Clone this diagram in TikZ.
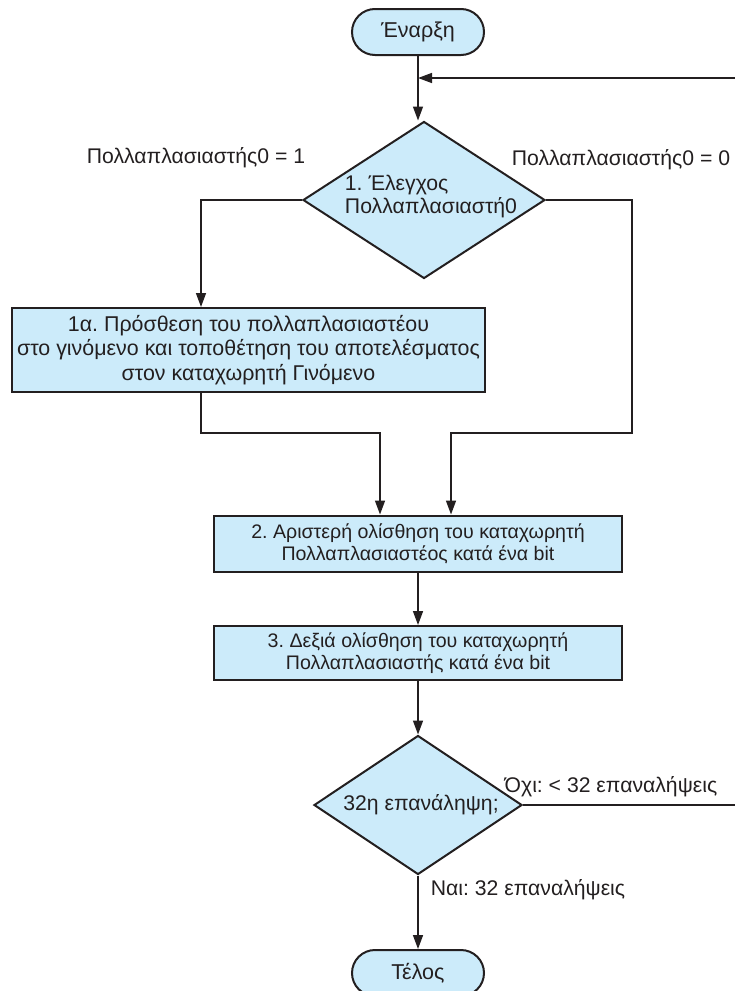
\documentclass[tikz,border=0pt]{standalone}
\usepackage{fontspec}
\setmainfont{Liberation Sans}
\usetikzlibrary{arrows.meta,shapes.geometric}
\frenchspacing
\definecolor{boxfill}{RGB}{204,235,250}
\definecolor{linecol}{RGB}{35,31,32}
\tikzset{
  base/.style={draw=linecol, line width=2pt, fill=boxfill, inner sep=0pt, text=linecol},
  term/.style={base, rounded corners=23pt, minimum width=132pt, minimum height=46pt, font=\fontsize{21.5}{24}\selectfont},
  procbox/.style={base, rectangle, align=center},
  bigbox/.style={procbox, font=\fontsize{21.4}{24.5}\selectfont},
  midbox/.style={procbox, font=\fontsize{19.6}{22}\selectfont},
  decis/.style={base, diamond},
  txt/.style={inner sep=0pt, font=\fontsize{21.2}{23}\selectfont, text=linecol},
  conn/.style={draw=linecol, line width=1.5pt},
  arr/.style={conn, -{Triangle[length=14pt,width=10pt]}},
}
\begin{document}
\begin{tikzpicture}[x=1pt,y=-1pt]
\useasboundingbox (0,0) rectangle (734,991);
% nodes
\node[term] (start) at (418,32) {Έναρξη};
\node[decis, minimum width=242pt, minimum height=157pt] (d1) at (424,200) {};
\node[txt, align=left] (d1t) at (431,197) {1. Έλεγχος\\Πολλαπλασιαστή0};
\node[bigbox, minimum width=473pt, minimum height=84pt] (b1) at (248.5,350) {1α. Πρόσθεση του πολλαπλασιαστέου\\στο γινόμενο και τοποθέτηση του αποτελέσματος\\στον καταχωρητή Γινόμενο};
\node[midbox, minimum width=408pt, minimum height=56pt] (b2) at (418,543.5) {2. Αριστερή ολίσθηση του καταχωρητή\\Πολλαπλασιαστέος κατά ένα bit};
\node[midbox, minimum width=408pt, minimum height=54pt] (b3) at (418,653) {3. Δεξιά ολίσθηση του καταχωρητή\\Πολλαπλασιαστής κατά ένα bit};
\node[decis, minimum width=208pt, minimum height=139pt] (d2) at (418,805) {};
\node[txt] (d2t) at (421,805) {32η επανάληψη;};
\node[term] (end) at (418,973) {Τέλος};
% labels
\node[txt] (l1) at (196,158) {Πολλαπλασιαστής0 = 1};
\node[txt] (l0) at (621,160) {Πολλαπλασιαστής0 = 0};
\node[txt] (lno) at (611,787) {Όχι: < 32 επαναλήψεις};
\node[txt] (lyes) at (528,890) {Ναι: 32 επαναλήψεις};
% coordinates
\coordinate (loopR) at (736,78);
\coordinate (loopIn) at (418,78);
\coordinate (joinL) at (380,433);
\coordinate (joinR) at (451,433);
% connectors
\draw[arr] (start.south) -- (d1.north -| start.south);
\draw[arr] (d1.west) -| (b1.north -| 201,0);
\draw[arr] (d1.east) -| (632,433) -| (b2.north -| joinR);
\draw[arr] (b1.south -| 201,0) |- (joinL) -- (b2.north -| joinL);
\draw[arr] (b2.south) -- (b3.north);
\draw[arr] (b3.south) -- (d2.north);
\draw[conn] (d2.east) -| (loopR);
\draw[arr] (loopR) -- (loopIn);
\draw[arr] (d2.south) -- (end.north);
\end{tikzpicture}
\end{document}
